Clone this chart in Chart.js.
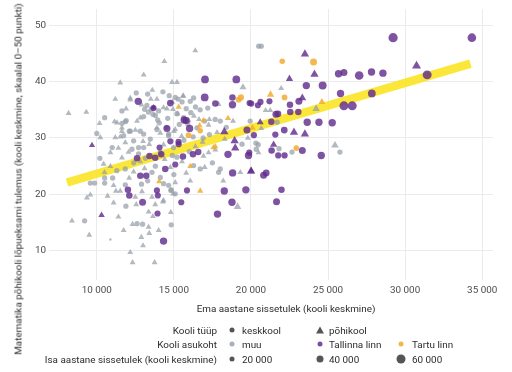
<!DOCTYPE html>
<html lang="et">
<head>
<meta charset="UTF-8">
<title>Matemaatika tulemus ja sissetulek</title>
<script src="https://cdn.jsdelivr.net/npm/chart.js@4"></script>
<style>
  html, body { margin: 0; padding: 0; background: #fff; }
  body { font-family: Roboto, Arial, sans-serif; color: #2b2b2b; }
  .wrap { position: relative; width: 512px; height: 372px; overflow: hidden; }
  #chart { position: absolute; left: 0; top: 0; }
  .ytitle {
    position: absolute; left: 18px; top: 179px;
    transform: translate(-50%, -50%) rotate(-90deg);
    white-space: nowrap; font-size: 9.9px;
  }
  .xtitle {
    position: absolute; left: 286px; top: 308px;
    transform: translate(-50%, -50%);
    white-space: nowrap; font-size: 9.9px;
  }
  .lab { position: absolute; right: 295px; white-space: nowrap; font-size: 9.9px; transform: translateY(-50%); }
  .txt { position: absolute; white-space: nowrap; font-size: 9.9px; transform: translateY(-50%); }
  .sym { position: absolute; transform: translate(-50%, -50%); border-radius: 50%; }
  .tri { position: absolute; transform: translate(-50%, -50%); }
</style>
</head>
<body>
<div class="wrap">
  <canvas id="chart" width="512" height="372"></canvas>
  <div class="ytitle">Matematika põhikooli lõpueksami tulemus (kooli keskmine, skaalal 0–50 punkti)</div>
  <div class="xtitle">Ema aastane sissetulek (kooli keskmine)</div>

  <div class="lab" style="top:330px">Kooli tüüp</div>
  <div class="sym" style="left:232px;top:330px;width:5px;height:5px;background:#555"></div>
  <div class="txt" style="left:242px;top:330px">keskkool</div>
  <svg class="tri" style="left:320px;top:330px" width="9" height="8"><polygon points="4.5,0.5 8.5,7.5 0.5,7.5" fill="#555"/></svg>
  <div class="txt" style="left:329px;top:330px">põhikool</div>

  <div class="lab" style="top:344px">Kooli asukoht</div>
  <div class="sym" style="left:232px;top:344px;width:5px;height:5px;background:#a9b0b8"></div>
  <div class="txt" style="left:242px;top:344px">muu</div>
  <div class="sym" style="left:320px;top:344px;width:5px;height:5px;background:#7d4c9e"></div>
  <div class="txt" style="left:329px;top:344px">Tallinna linn</div>
  <div class="sym" style="left:401px;top:344px;width:5px;height:5px;background:#f2b846"></div>
  <div class="txt" style="left:412px;top:344px">Tartu linn</div>

  <div class="lab" style="top:359px">Isa aastane sissetulek (kooli keskmine)</div>
  <div class="sym" style="left:232px;top:359px;width:5px;height:5px;background:#555"></div>
  <div class="txt" style="left:242px;top:359px">20 000</div>
  <div class="sym" style="left:320px;top:359px;width:7px;height:7px;background:#555"></div>
  <div class="txt" style="left:329px;top:359px">40 000</div>
  <div class="sym" style="left:401px;top:359px;width:9px;height:9px;background:#555"></div>
  <div class="txt" style="left:412px;top:359px">60 000</div>
</div>

<script>
// [ema sissetulek, tulemus, isa sissetulek (tuh.)]
const tallinnKesk = [
  [29220,47.8,60],[34330,47.8,55],[23590,39.3,45],[24650,39.3,50],[25680,41.4,45],[26030,41.6,42],
  [27020,41.1,55],[27820,41.7,45],[28560,41.5,45],[31430,41.2,58],[25810,37.9,45],[27840,37.9,48],
  [26030,35.7,58],[26570,35.7,58],[20620,36.4,35],[21200,36.5,35],[23110,36.5,42],[22530,35.9,38],
  [22550,34.6,38],[23070,34.6,38],[21750,34.3,40],[21320,32.9,38],[23650,32.8,45],[24410,32.8,45],
  [25270,32.7,45],[22160,31.4,40],[21580,30.6,36],[21340,27.8,38],[21770,26.9,36],[22180,26.9,36],
  [23330,27.8,42],[24560,26.9,45],[20820,23.4,42],[20990,23.8,40],[21980,20.8,38],[21660,18.7,42],
  [20020,36.1,35],[20450,35.8,35],[21620,34.2,42],[19740,31.4,42],[20190,30.5,35],[19890,27.4,35],
  [17020,40.4,48],[19050,40.4,48],[17000,37.2,48],[14770,36.2,40],[17690,36.1,38],[18800,37.2,38],
  [18800,35.9,45],[19910,36.2,35],[13680,35.3,35],[15670,33.2,45],[15800,33.1,42],[14550,31.7,42],
  [16020,31.7,45],[14770,29.4,35],[15310,28.9,35],[14070,28.3,35],[12690,36.5,45],[12020,20.8,38],
  [12110,19.8,38],[14330,11.7,45],[13940,16.6,35],[12970,18.6,42],[13900,20.7,35],[13960,19.8,35],
  [15480,18.6,35],[15850,20.7,35],[17830,16.5,45],[18270,20.6,45],[18770,18.6,45],[19670,20.8,45],
  [12610,26.4,38],[13790,26.5,38],[14180,27.1,38],[12820,23.3,38],[13210,23.3,38],[14440,24.5,38],
  [15090,25.3,35],[15590,26.7,38],[16240,27.1,38],[18510,27.1,45],[18810,23.8,45],[19840,26.9,45],
  [16580,27.5,38],[13420,26.8,38],[15300,29.3,35]
];
const tallinnPohi = [
  [23500,44.9,45],[24120,41.3,45],[22500,40.5,38],[30740,42.8,50],[23330,37.1,42],[20600,32.8,35],
  [22790,31.0,45],[23500,30.7,45],[21470,28.8,38],[20020,24.2,35],[9690,28.7,30],[10310,16.3,32],
  [18270,31.1,45],[18940,29.5,45],[18980,28.2,45],[20000,24.1,45],[13680,35.4,30]
];
const tartuKesk = [
  [22030,43.6,30],[24060,43.5,42],[22180,37.2,32],[22940,28.2,30],[19350,37.2,35],[19200,36.8,32],
  [16710,31.3,30],[15950,30.5,32]
];
const tartuPohi = [
  [21270,37.7,38],[24600,36.4,35],[20100,31.8,32],[15310,35.5,30],[16920,33.1,30],[18510,33.5,30],
  [16670,32.2,30],[17570,28.3,30],[16060,25.0,28],[17690,28.5,28],[16710,20.6,30],[14050,22.3,30]
];
const muuKesk = [
  [12560,38.0,28],[11630,34.8,28],[10510,33.6,28],[11850,32.9,28],[11630,32.6,28],[12110,31.2,28],
  [14290,38.2,28],[11910,33.1,28],[13100,35.1,28],[13530,35.1,28],[13250,35.8,28],[15270,36.9,28],
  [15530,36.4,28],[16060,36.5,28],[16280,37.1,28],[16990,33.0,28],[17680,33.3,28],[18010,33.0,28],
  [19950,33.0,28],[14050,32.7,28],[14510,31.9,28],[13040,30.7,28],[13470,29.8,28],[14660,30.4,28],
  [19420,28.9,28],[20340,28.0,28],[12390,29.5,28],[12710,28.3,28],[20500,46.3,28],[20670,46.3,28],
  [20470,28.8,28],[21700,32.8,28],[21820,28.1,28],[22660,27.5,28],[25770,27.5,28],[20320,29.1,28],
  [10510,22.9,28],[9580,22.0,28],[9860,22.0,28],[10510,22.0,28],[11030,22.9,28],[11850,24.5,28],
  [11850,21.7,28],[11890,17.9,28],[9210,15.3,28],[12970,14.7,28],[14830,14.6,28],[14830,20.8,28],
  [15090,20.1,28],[12610,14.8,28],[13040,33.8,28],[13640,34.2,28],[14010,34.8,28],[15090,37.2,28],
  [15200,34.3,28],[15630,33.6,28],[12170,31.2,28],[12820,31.2,28],[13900,31.5,28],[11740,30.4,28],
  [14660,30.7,28],[12280,28.0,28],[13040,28.3,28],[14980,28.3,28],[12710,27.2,28],[14120,27.4,28],
  [15200,26.6,28],[16280,25.1,28],[16710,24.5,28],[18010,24.5,28],[17900,23.9,28],[13580,23.9,28],
  [14120,23.0,28],[14660,21.6,28],[14810,20.7,28],[14330,21.9,28],[16400,35.5,28],[16700,35.0,28],
  [15800,35.2,28],[16100,34.5,28],[13800,34.0,28],[13350,34.6,28],[15900,32.5,28],[16500,31.8,28],
  [17300,30.6,28],[16900,30.0,28],[10880,12.0,5],
  [13300,37.8,28],[14700,37.5,28],[13950,33.2,28],[14600,33.5,28],[15350,32.4,28],[16250,30.2,28],
  [15650,29.6,28],[13150,26.4,28],[12400,25.6,28],[11300,24.2,28],[13800,25.0,28],[14900,26.9,28],
  [16000,27.6,28],[17500,25.6,28],[12900,21.8,28],[13300,22.4,28],[10200,26.4,28],[11000,28.3,28],
  [10000,30.8,28],[17200,35.3,28],[18400,31.9,28],[15000,23.5,28]
];
const muuPohi = [
  [13040,41.2,28],[11520,39.8,28],[12170,37.1,28],[8170,34.4,28],[9320,34.6,28],[10180,32.6,28],
  [11150,32.9,28],[12610,33.0,28],[12820,33.6,28],[11630,31.2,28],[11520,30.2,28],[10230,30.1,28],
  [16390,45.5,28],[14380,43.6,28],[14880,39.9,28],[15200,39.9,28],[19480,39.0,35],[13900,36.9,28],
  [15610,37.5,28],[14550,35.2,28],[11200,36.9,28],[12170,36.8,28],[13500,36.9,28],[14330,35.4,28],
  [14940,35.1,28],[15240,34.3,28],[15590,37.4,28],[16630,33.3,28],[17300,33.3,28],[11310,32.7,28],
  [11630,31.8,28],[12500,31.4,28],[11200,30.1,28],[11850,29.2,28],[13900,31.8,28],[14120,30.9,28],
  [15090,31.5,28],[15950,33.1,28],[17250,32.3,28],[17900,36.0,28],[16860,29.3,28],[13400,28.9,28],
  [14330,28.8,28],[18840,33.0,28],[15000,31.2,28],[10440,25.4,28],[10880,25.0,28],[9360,19.4,28],
  [9580,19.9,28],[10700,19.7,28],[11240,20.6,28],[11520,20.6,28],[11090,18.5,28],[8390,15.3,28],
  [9510,12.8,28],[12320,14.7,28],[13360,14.2,28],[11740,13.6,28],[12890,12.4,28],[12170,9.7,28],
  [12320,7.9,28],[13750,7.9,28],[13640,16.1,28],[14010,13.6,28],[14330,18.9,28],[12560,18.2,28],
  [13400,13.1,28],[10880,27.4,28],[11630,26.5,28],[12060,27.5,28],[12820,25.8,28],[12390,24.0,28],
  [12500,19.5,28],[12930,20.5,28],[11090,21.6,28],[13580,19.5,28],[13360,16.9,28],[13790,18.2,28],
  [14290,18.7,28],[16060,22.4,28],[14950,20.1,28],[15090,22.1,28],[14770,24.8,28],[15530,25.8,28],
  [16920,26.8,28],[17690,27.9,28],[17250,27.4,28],[19310,23.9,28],[19130,17.8,40],[20950,34.9,28],
  [21250,34.9,28],[21960,38.8,28],[20670,31.7,28],[20490,27.4,28],[25450,28.7,40],[24230,35.2,40],
  [17800,31.0,28],[18300,29.8,28],[16400,28.5,28],[19800,30.0,28],
  [13600,38.5,28],[14900,36.4,28],[12900,35.9,28],[11900,35.2,28],[16300,33.9,28],[15500,30.3,28],
  [13000,29.4,28],[11400,28.2,28],[14400,26.2,28],[15800,23.8,28],[13100,24.6,28],[12100,22.9,28],
  [10500,23.9,28],[17000,24.8,28],[18200,22.4,28],[14800,16.8,28],[11400,16.0,28],[13000,10.9,28]
];

// regressioonijoon
const trendX = [8070, 34240];
const trendY = [22.1, 43.2];

const xTicks = [10000, 15000, 20000, 25000, 30000, 35000];
const yTicks = [10, 20, 30, 40, 50];

const purple = 'rgba(98,45,140,0.82)';
const grey = 'rgba(150,158,168,0.72)';
const orange = 'rgba(242,172,50,0.85)';

function toPoints(rows) {
  return rows.map(r => ({ x: r[0], y: r[1], isa: r[2] }));
}
function radius(ctx) {
  const p = ctx.raw;
  return p ? 0.9 + p.isa * 0.062 : 2;
}
function triRadius(ctx) {
  return radius(ctx) * 1.3;
}
function fmt(v) {
  return String(v).replace(/\B(?=(\d{3})+(?!\d))/g, ' ');
}

function pointSet(label, rows, color, style) {
  return {
    type: 'scatter',
    label: label,
    data: toPoints(rows),
    backgroundColor: color,
    borderWidth: 0,
    pointStyle: style,
    pointRadius: style === 'triangle' ? triRadius : radius,
    pointHoverRadius: style === 'triangle' ? triRadius : radius
  };
}

const tickFont = { family: 'Roboto', size: 9.9 };

new Chart(document.getElementById('chart'), {
  data: {
    datasets: [
      pointSet('Tallinn keskkool', tallinnKesk, purple, 'circle'),
      pointSet('Tallinn põhikool', tallinnPohi, purple, 'triangle'),
      pointSet('Tartu keskkool', tartuKesk, orange, 'circle'),
      pointSet('Tartu põhikool', tartuPohi, orange, 'triangle'),
      pointSet('muu keskkool', muuKesk, grey, 'circle'),
      pointSet('muu põhikool', muuPohi, grey, 'triangle'),
      {
        type: 'line',
        label: 'trend',
        data: trendX.map((x, i) => ({ x: x, y: trendY[i] })),
        borderColor: 'rgba(250,228,35,0.9)',
        borderWidth: 8.5,
        borderCapStyle: 'butt',
        pointRadius: 0,
        order: 10
      }
    ]
  },
  options: {
    responsive: false,
    animation: false,
    layout: { padding: { left: 0, top: 7, right: 19, bottom: 72 } },
    plugins: { legend: { display: false }, tooltip: { enabled: false } },
    scales: {
      x: {
        type: 'linear',
        min: 6900,
        max: 35700,
        afterBuildTicks: s => { s.ticks = xTicks.map(v => ({ value: v })); },
        afterFit: s => { s.height = 20; },
        grid: { color: '#ebebeb', lineWidth: 1, drawTicks: false },
        border: { display: false },
        ticks: { color: '#4d4d4d', font: tickFont, padding: 5, maxRotation: 0, autoSkip: false, callback: v => fmt(v) }
      },
      y: {
        type: 'linear',
        min: 4.8,
        max: 52.9,
        afterBuildTicks: s => { s.ticks = yTicks.map(v => ({ value: v })); },
        afterFit: s => { s.width = 49; },
        grid: { color: '#ebebeb', lineWidth: 1, drawTicks: false },
        border: { display: false },
        ticks: { color: '#4d4d4d', font: tickFont, padding: 3 }
      }
    }
  }
});
</script>
</body>
</html>
